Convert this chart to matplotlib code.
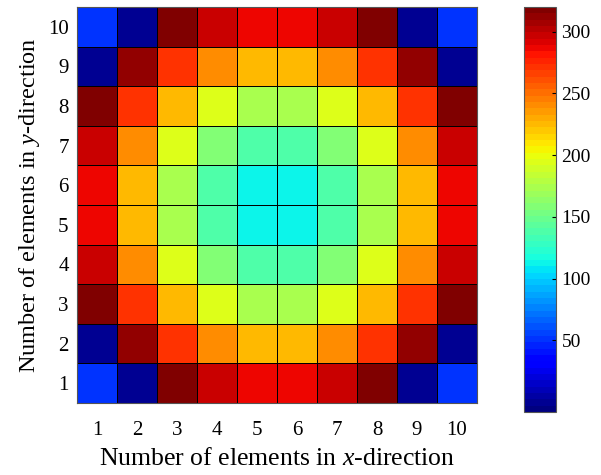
import numpy as np
import matplotlib
matplotlib.use('Agg')
import matplotlib.pyplot as plt

plt.rcParams['font.family'] = 'Liberation Serif'
plt.rcParams['mathtext.fontset'] = 'custom'
plt.rcParams['mathtext.it'] = 'Liberation Serif:italic'
plt.rcParams['mathtext.rm'] = 'Liberation Serif'

# values, row 1 (bottom) first
x_ticks = [1, 2, 3, 4, 5, 6, 7, 8, 9, 10]
y_ticks = [1, 2, 3, 4, 5, 6, 7, 8, 9, 10]
row_1 = [53, 0, 320, 298, 287, 287, 298, 320, 0, 53]
row_2 = [0, 310, 273, 241, 224, 224, 241, 273, 310, 0]
row_3 = [320, 273, 224, 195, 176, 176, 195, 224, 273, 320]
row_4 = [298, 241, 195, 158, 140, 140, 158, 195, 241, 298]
row_5 = [287, 224, 176, 140, 112, 112, 140, 176, 224, 287]
row_6 = [287, 224, 176, 140, 112, 112, 140, 176, 224, 287]
row_7 = [298, 241, 195, 158, 140, 140, 158, 195, 241, 298]
row_8 = [320, 273, 224, 195, 176, 176, 195, 224, 273, 320]
row_9 = [0, 310, 273, 241, 224, 224, 241, 273, 310, 0]
row_10 = [53, 0, 320, 298, 287, 287, 298, 320, 0, 53]
cbar_ticks = [50, 100, 150, 200, 250, 300]

grid = np.array([row_1, row_2, row_3, row_4, row_5,
                 row_6, row_7, row_8, row_9, row_10])

fig = plt.figure(figsize=(6.01, 4.75), dpi=100)
ax = fig.add_axes([77 / 601, 1 - 403 / 475, 400 / 601, 396 / 475])
cax = fig.add_axes([524 / 601, 1 - 412 / 475, 32 / 601, 405 / 475])

edges_x = np.arange(len(x_ticks) + 1) + 0.5
edges_y = np.arange(len(y_ticks) + 1) + 0.5
mesh = ax.pcolormesh(edges_x, edges_y, grid, cmap=plt.get_cmap('jet', 64),
                     vmin=-8, vmax=320, edgecolor='black', linewidth=0.6)

ax.set_xticks(x_ticks)
ax.set_yticks(y_ticks)
ax.tick_params(length=0, labelsize=15)
ax.tick_params(axis='x', pad=13)
ax.tick_params(axis='y', pad=6)
ax.set_xlim(0.5, 10.5)
ax.set_ylim(0.5, 10.5)
for s in ax.spines.values():
    s.set_color('#555555')
ax.set_xlabel('Number of elements in $x$-direction', fontsize=18.5, labelpad=6)
ax.set_ylabel('Number of elements in $y$-direction', fontsize=17.5, labelpad=4)

cb = fig.colorbar(mesh, cax=cax, ticks=cbar_ticks)
cb.outline.set_edgecolor('#555555')
cb.ax.tick_params(direction='in', length=3, labelsize=14, pad=4)

fig.savefig('out.png', dpi=100)
